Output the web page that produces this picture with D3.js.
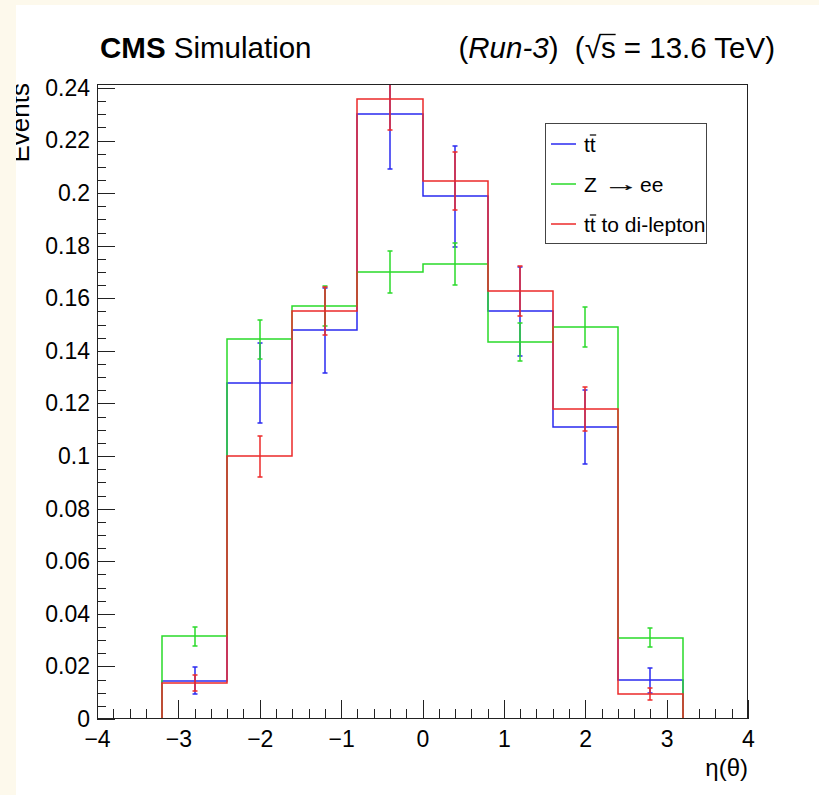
<!DOCTYPE html>
<html>
<head>
<meta charset="utf-8">
<script src="https://cdn.jsdelivr.net/npm/d3@7"></script>
<style>
html,body{margin:0;padding:0;background:#fdf9ec;}
svg{display:block;}
text{font-family:"Liberation Sans",Arial,Helvetica,sans-serif;fill:#000;white-space:pre;}
</style>
</head>
<body>
<svg id="c" width="819" height="795"></svg>
<script>
// ---- data ----
const binEdges = [-4, -3.2, -2.4, -1.6, -0.8, 0, 0.8, 1.6, 2.4, 3.2, 4];
const ttbarVals = [0, 0.0146, 0.1277, 0.1478, 0.2300, 0.1988, 0.1551, 0.1111, 0.0147, 0];
const ttbarErrs = [0, 0.0050, 0.0152, 0.0163, 0.0207, 0.0193, 0.0169, 0.0142, 0.0048, 0];
const zeeVals   = [0, 0.0315, 0.1444, 0.1570, 0.1701, 0.1731, 0.1433, 0.1490, 0.0309, 0];
const zeeErrs   = [0, 0.0036, 0.0075, 0.0076, 0.0080, 0.0081, 0.0072, 0.0075, 0.0036, 0];
const dilepVals = [0, 0.0136, 0.0999, 0.1553, 0.2357, 0.2046, 0.1628, 0.1179, 0.0096, 0];
const dilepErrs = [0, 0.0031, 0.0079, 0.0091, 0.0118, 0.0110, 0.0095, 0.0083, 0.0023, 0];
const xMajorTicks = [-4, -3, -2, -1, 0, 1, 2, 3, 4];
const yMajorTicks = [0, 0.02, 0.04, 0.06, 0.08, 0.1, 0.12, 0.14, 0.16, 0.18, 0.2, 0.22, 0.24];

// ---- layout ----
const L = 97, R = 748, T = 84, B = 719;
const svg = d3.select("#c");
svg.append("rect").attr("x", 16).attr("y", 5).attr("width", 803).attr("height", 790).attr("fill", "#fff");
svg.append("clipPath").attr("id", "canvasClip").append("rect").attr("x", 16).attr("y", 5).attr("width", 803).attr("height", 790);
svg.append("clipPath").attr("id", "plotClip").append("rect").attr("x", L).attr("y", T).attr("width", R - L).attr("height", B - T);
const root = svg.append("g").attr("clip-path", "url(#canvasClip)");

const x = d3.scaleLinear().domain([-4, 4]).range([L, R]);
const y = d3.scaleLinear().domain([0, 0.2415]).range([B, T]);
const px = v => Math.round(x(v));
const py = v => Math.round(y(v));

// ---- axes ----
const minorY = d3.range(0, 49).map(i => i * 0.005);
const minorX = d3.range(0, 41).map(i => -4 + i * 0.2);
root.append("g").attr("transform", `translate(${L},0)`)
  .call(d3.axisLeft(y).tickValues(minorY).tickSizeInner(-9).tickSizeOuter(0).tickFormat(""))
  .call(g => g.select(".domain").remove());
root.append("g").attr("transform", `translate(${L},0)`)
  .call(d3.axisLeft(y).tickValues(yMajorTicks).tickSizeInner(-18).tickSizeOuter(0).tickPadding(7)
        .tickFormat(d => d === 0 ? "0" : String(+d.toFixed(2))))
  .call(g => g.select(".domain").remove())
  .call(g => g.selectAll("text").style("font-size", "23px").attr("font-family", null));
root.append("g").attr("transform", `translate(0,${B})`)
  .call(d3.axisBottom(x).tickValues(minorX).tickSizeInner(-10).tickSizeOuter(0).tickFormat(""))
  .call(g => g.select(".domain").remove());
root.append("g").attr("transform", `translate(0,${B})`)
  .call(d3.axisBottom(x).tickValues(xMajorTicks).tickSizeInner(-19).tickSizeOuter(0).tickPadding(12)
        .tickFormat(d3.format("d")))
  .call(g => g.select(".domain").remove())
  .call(g => g.selectAll("text").style("font-size", "23px").attr("font-family", null));
root.selectAll(".tick line").attr("stroke", "#222").attr("shape-rendering", "crispEdges");

// ---- histograms ----
const series = [
  {vals: ttbarVals, errs: ttbarErrs, color: "#2a2af0"},
  {vals: zeeVals, errs: zeeErrs, color: "#2ada2a"},
  {vals: dilepVals, errs: dilepErrs, color: "#ec2a2a"}
];
const SW = 1.5;
const plot = root.append("g").attr("clip-path", "url(#plotClip)");
series.forEach(s => {
  const pts = [[px(binEdges[0]), py(0)]];
  s.vals.forEach((v, i) => {
    pts.push([px(binEdges[i]), py(v)]);
    pts.push([px(binEdges[i + 1]), py(v)]);
  });
  pts.push([px(binEdges[binEdges.length - 1]), py(0)]);
  plot.append("path").attr("d", d3.line()(pts)).attr("fill", "none")
    .attr("stroke", s.color).attr("stroke-width", SW);
  const g = plot.append("g").attr("stroke", s.color).attr("stroke-width", SW);
  s.vals.forEach((v, i) => {
    if (v <= 0) return;
    const cx = px((binEdges[i] + binEdges[i + 1]) / 2);
    const y1 = py(v + s.errs[i]), y0 = py(v - s.errs[i]);
    g.append("line").attr("x1", cx).attr("x2", cx).attr("y1", y1).attr("y2", y0);
    g.append("line").attr("x1", cx - 2.5).attr("x2", cx + 2.5).attr("y1", y1).attr("y2", y1);
    g.append("line").attr("x1", cx - 2.5).attr("x2", cx + 2.5).attr("y1", y0).attr("y2", y0);
  });
});

// frame
root.append("rect").attr("x", L + 0.5).attr("y", T + 0.5).attr("width", R - L - 1).attr("height", B - T - 1)
  .attr("fill", "none").attr("stroke", "#222").attr("stroke-width", 1);

// ---- titles ----
const TY = 58;
const t1 = root.append("text").attr("x", 100).attr("y", TY).style("font-size", "29.5px");
t1.append("tspan").attr("font-weight", "bold").text("CMS");
t1.append("tspan").text(" Simulation");

const t2 = root.append("text").attr("x", 775).attr("y", TY).attr("text-anchor", "end").style("font-size", "29.5px");
t2.append("tspan").text("(");
t2.append("tspan").attr("font-style", "italic").text("Run-3");
t2.append("tspan").text(")  (\u221A");
t2.append("tspan").text("s");
t2.append("tspan").text(" = 13.6 TeV)");
{
  const node = t2.node();
  const full = node.textContent;
  const idx = full.indexOf("\u221As");
  const b = node.getEndPositionOfChar(idx + 1);
  const rs = node.getEndPositionOfChar(idx);
  root.append("line").attr("x1", rs.x - 1.5).attr("x2", b.x).attr("y1", TY - 23.5).attr("y2", TY - 23.5)
    .attr("stroke", "#000").attr("stroke-width", 1.4);
}

root.append("text").attr("transform", `translate(29,${T - 1}) rotate(-90)`).attr("text-anchor", "end")
  .style("font-size", "26px").text("Events");
root.append("text").attr("x", R).attr("y", 776).attr("text-anchor", "end").style("font-size", "24px").text("\u03B7(\u03B8)");

// ---- legend ----
const lg = root.append("g");
lg.append("rect").attr("x", 545.5).attr("y", 123.5).attr("width", 161).attr("height", 120)
  .attr("fill", "#fff").attr("stroke", "#444").attr("stroke-width", 1);
const legendLabels = ["tt", "Z", "tt to di-lepton"];
const rowY = [144, 184, 224];
series.forEach((s, i) => {
  lg.append("line").attr("x1", 551).attr("x2", 576).attr("y1", rowY[i]).attr("y2", rowY[i])
    .attr("stroke", s.color).attr("stroke-width", SW);
  const tx = lg.append("text").attr("x", 584).attr("y", rowY[i] + 8).style("font-size", "21px").text(legendLabels[i]);
  if (i === 1) {
    lg.append("text").attr("transform", `translate(603,${rowY[i] + 7}) scale(1.9,1)`)
      .attr("font-family", "DejaVu Sans").style("font-size", "19px").style("stroke", "#000").style("stroke-width", 0.3)
      .text("\u2192");
    lg.append("text").attr("x", 640).attr("y", rowY[i] + 8).style("font-size", "21px").text("ee");
  } else {
    const n = tx.node();
    const a = n.getStartPositionOfChar(1), b = n.getEndPositionOfChar(1);
    lg.append("line").attr("x1", a.x).attr("x2", b.x + 0.5).attr("y1", rowY[i] + 8 - 17).attr("y2", rowY[i] + 8 - 17)
      .attr("stroke", "#000").attr("stroke-width", 1.2);
  }
});
</script>
</body>
</html>
